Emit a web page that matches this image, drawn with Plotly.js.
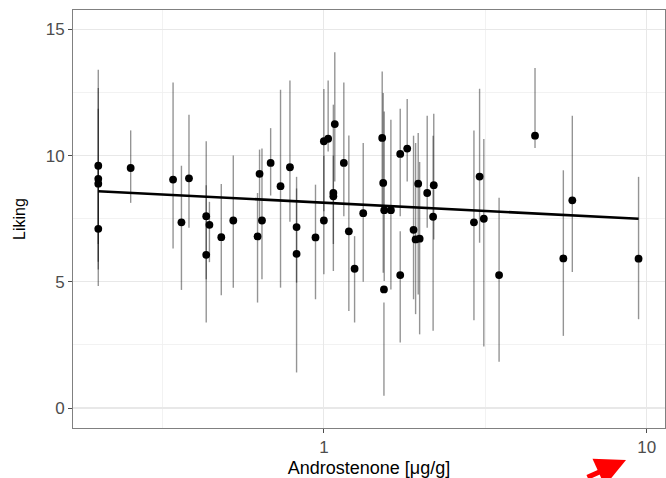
<!DOCTYPE html>
<html>
<head>
<meta charset="utf-8">
<script src="https://cdn.plot.ly/plotly-3.0.1.min.js"></script>
<style>html,body{margin:0;padding:0;background:#fff;}#chart{width:666px;height:478px;}</style>
</head>
<body>
<div id="chart"></div>
<script>
// Androstenone concentration (µg/g)
const androstenone = [0.2,0.2,0.2,0.2,0.252,0.341,0.362,0.382,0.432,0.432,0.442,0.481,0.524,0.623,0.632,0.643,0.684,0.734,0.785,0.823,0.823,0.942,1.0,1.0,1.031,1.081,1.07,1.07,1.153,1.195,1.245,1.324,1.516,1.527,1.538,1.535,1.613,1.724,1.724,1.812,1.896,1.924,1.96,1.98,2.09,2.19,2.18,2.917,3.037,3.13,3.49,4.51,5.52,5.885,9.44];
// Liking (point estimate)
const liking = [9.60,9.08,8.89,7.10,9.51,9.05,7.36,9.10,7.60,6.07,7.26,6.77,7.43,6.80,9.28,7.43,9.71,8.79,9.54,7.17,6.11,6.76,7.43,10.57,10.67,11.25,8.52,8.39,9.71,7.00,5.52,7.72,10.70,8.92,7.84,4.70,7.84,10.07,5.27,10.28,7.06,6.68,8.89,6.71,8.52,8.83,7.58,7.36,9.17,7.50,5.27,10.79,5.93,8.23,5.92];
// Range lower / upper
const likingLow = [5.49,4.84,6.5,5.8,8.13,6.32,4.68,7.14,5.1,3.39,5.78,4.47,4.77,4.18,7.5,5.10,8.42,4.77,7.38,4.97,1.41,4.31,5.30,7.8,10.16,8.98,5.43,6.5,7.60,3.85,3.39,5.0,8.0,5.36,5.03,0.49,4.70,7.6,2.60,8.98,4.31,3.72,4.5,2.92,7.14,6.68,3.06,3.48,6.55,2.44,1.83,10.30,2.86,5.39,3.52];
const likingHigh = [13.40,12.68,11.86,9.5,11.0,12.90,9.6,11.62,10.57,8.83,8.17,8.88,10.01,8.52,10.24,10.28,11.09,12.61,12.98,9.16,8.70,8.85,10.0,12.64,12.98,14.10,12.02,10.0,12.90,10.80,6.81,10.50,13.33,12.48,11.75,4.18,11.42,11.86,7.0,12.24,10.79,10.5,10.90,9.75,11.58,11.66,10.79,11.0,12.65,10.66,8.33,13.47,9.42,11.58,9.16];
// Fitted line end points
const fitX = [0.2, 9.44];
const fitY = [8.59, 7.50];
// Axis ticks
const xTicks = [1, 10];
const xTickText = ["1", "10"];
const xMinor = [0.316, 3.16];
const yTicks = [0, 5, 10, 15];
const yMinor = [2.5, 7.5, 12.5];

const segX = [], segY = [];
for (let i = 0; i < androstenone.length; i++) {
  segX.push(androstenone[i], androstenone[i], null);
  segY.push(likingLow[i], likingHigh[i], null);
}

const traces = [
  {x: segX, y: segY, mode: 'lines', type: 'scatter', line: {color: 'rgba(0,0,0,0.42)', width: 1.4}, hoverinfo: 'skip', showlegend: false},
  {x: fitX, y: fitY, mode: 'lines', type: 'scatter', line: {color: '#000', width: 2.6}, showlegend: false},
  {x: androstenone, y: liking, mode: 'markers', type: 'scatter', marker: {color: '#000', size: 7.8}, showlegend: false}
];

const layout = {
  width: 666, height: 478,
  margin: {l: 73, r: 1, t: 10, b: 50},
  paper_bgcolor: '#fff', plot_bgcolor: '#fff',
  font: {family: 'Liberation Sans, Arial, sans-serif', size: 17, color: '#4d4d4d'},
  showlegend: false,
  xaxis: {
    type: 'log', range: [Math.log10(0.167), Math.log10(11.4)],
    tickmode: 'array', tickvals: xTicks, ticktext: xTickText,
    ticks: 'outside', ticklen: 4, tickcolor: '#4d4d4d', tickwidth: 1,
    showgrid: true, gridcolor: '#e8e8e8', gridwidth: 1.2,
    minor: {tickmode: 'array', tickvals: xMinor, showgrid: true, gridcolor: '#efefef', gridwidth: 0.8, ticks: ''},
    showline: true, mirror: true, linecolor: '#808080', linewidth: 1,
    zeroline: false,
    tickfont: {size: 17, color: '#4d4d4d'},
    title: {text: 'Androstenone [μg/g]', font: {size: 18, color: '#000'}, standoff: 7}
  },
  yaxis: {
    range: [-0.79, 15.77],
    tickmode: 'array', tickvals: yTicks,
    ticks: 'outside', ticklen: 4, tickcolor: '#4d4d4d', tickwidth: 1,
    showgrid: true, gridcolor: '#e8e8e8', gridwidth: 1.2,
    minor: {tickmode: 'array', tickvals: yMinor, showgrid: true, gridcolor: '#efefef', gridwidth: 0.8, ticks: ''},
    showline: true, mirror: true, linecolor: '#808080', linewidth: 1,
    zeroline: false,
    tickfont: {size: 17, color: '#4d4d4d'},
    title: {text: 'Liking', font: {size: 16, color: '#000'}, standoff: 16}
  },
  annotations: [{
    xref: 'paper', yref: 'paper', x: (626 - 73) / 592, y: (428 - 460) / 418,
    showarrow: true, arrowcolor: '#ff0000', arrowwidth: 5, arrowhead: 2, arrowsize: 1.2,
    ax: -40, ay: 30, text: ''
  }]
};

Plotly.newPlot('chart', traces, layout, {displayModeBar: false, staticPlot: true});
</script>
</body>
</html>
